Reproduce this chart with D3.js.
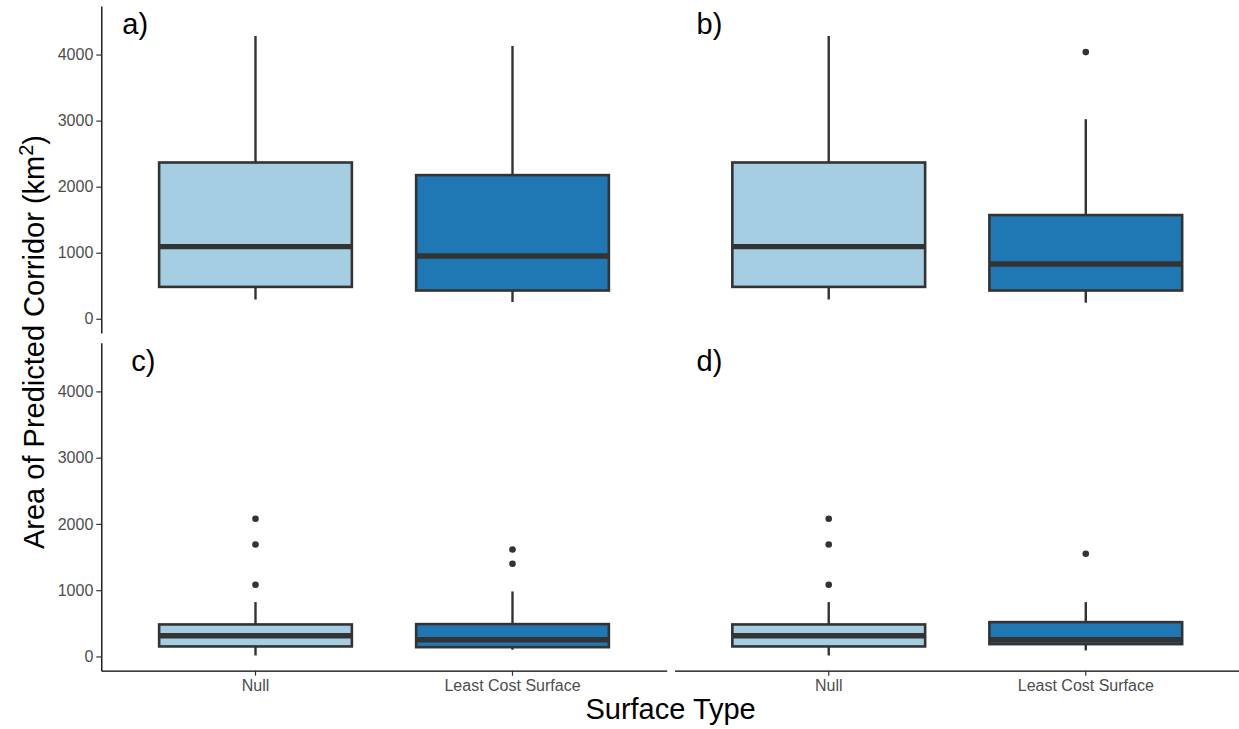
<!DOCTYPE html>
<html lang="en">
<head>
  <meta charset="UTF-8">
  <title>Area of Predicted Corridor</title>
  <style>
    body { margin: 0; background: #fff; }
    text { font-family: "Liberation Sans", Arial, sans-serif; }
  </style>
</head>
<body>
  <svg id="svg" width="1239" height="729"></svg>

  <script src="https://d3js.org/d3.v7.min.js"></script>
  <script>
    // categories on the x axis
    const categories = ["Null", "Least Cost Surface"]
    const panelLabels = ["a)", "b)", "c)", "d)"]
    const yTicks = [0, 1000, 2000, 3000, 4000]
    const fills = ["#A6CEE3", "#1F78B4"]

    // box stats per panel: [Null, Least Cost Surface], each [lower, q1, median, q3, upper]
    const statsA = [[292, 483, 1092, 2366, 4281], [255, 428, 950, 2175, 4130]]
    const statsB = [[292, 483, 1092, 2366, 4281], [244, 428, 830, 1570, 3022]]
    const statsC = [[15, 151, 312, 483, 820], [101, 140, 252, 488, 981]]
    const statsD = [[15, 151, 312, 483, 820], [91, 186, 252, 518, 820]]

    // outlying points per panel
    const outliersA = [[], []]
    const outliersB = [[], [4037]]
    const outliersC = [[1082, 1690, 2078], [1399, 1615]]
    const outliersD = [[1082, 1690, 2078], [1550]]

    const allStats = [statsA, statsB, statsC, statsD]
    const allOutliers = [outliersA, outliersB, outliersC, outliersD]

    const svg = d3.select('#svg')

    // panel geometry (2 x 2 grid)
    const cols = [[101.3, 666.7], [674.5, 1240]]
    const rows = [[6, 333], [342.7, 670.7]]
    const labelDx = [21, 22, 30, 22]

    panelLabels.forEach((lab, i) => {
      const col = i % 2
      const row = Math.floor(i / 2)
      const [x0, x1] = cols[col]
      const [y0, y1] = rows[row]

      const x = d3.scaleBand()
        .domain(categories)
        .range([x0, x1])
        .paddingInner(0.25)
        .paddingOuter(0.225)

      const y = d3.scaleLinear()
        .domain([-215, 4735])
        .range([y1, y0])

      const g = svg.append('g')

      // build rows for the boxes
      const boxes = categories.map((c, k) => ({
        cat: c,
        s: allStats[i][k],
        out: allOutliers[i][k],
        fill: fills[k]
      }))

      const bg = g.selectAll('g.box')
        .data(boxes)
        .join('g')
        .attr('class', 'box')

      // whiskers
      bg.append('line')
        .attr('x1', d => x(d.cat) + x.bandwidth() / 2)
        .attr('x2', d => x(d.cat) + x.bandwidth() / 2)
        .attr('y1', d => y(d.s[0]))
        .attr('y2', d => y(d.s[4]))
        .attr('stroke', '#333333')
        .attr('stroke-width', 2.4)

      // box
      bg.append('rect')
        .attr('x', d => x(d.cat))
        .attr('width', x.bandwidth())
        .attr('y', d => y(d.s[3]))
        .attr('height', d => y(d.s[1]) - y(d.s[3]))
        .attr('fill', d => d.fill)
        .attr('stroke', '#333333')
        .attr('stroke-width', 2.6)

      // median
      bg.append('line')
        .attr('x1', d => x(d.cat))
        .attr('x2', d => x(d.cat) + x.bandwidth())
        .attr('y1', d => y(d.s[2]))
        .attr('y2', d => y(d.s[2]))
        .attr('stroke', '#333333')
        .attr('stroke-width', 5.4)

      // outliers
      bg.selectAll('circle')
        .data(d => d.out.map(v => ({ cat: d.cat, v })))
        .join('circle')
        .attr('cx', d => x(d.cat) + x.bandwidth() / 2)
        .attr('cy', d => y(d.v))
        .attr('r', 3.3)
        .attr('fill', '#333333')

      // y axis only on the left column
      if (col === 0) {
        const ya = g.append('g')
          .attr('transform', `translate(${x0},0)`)
          .call(d3.axisLeft(y).tickValues(yTicks).tickFormat(d3.format('d'))
            .tickSize(5).tickSizeOuter(0).tickPadding(3))
        ya.select('.domain').attr('stroke', '#000').attr('stroke-width', 1.3)
        ya.selectAll('.tick line').attr('stroke', '#333333').attr('stroke-width', 1.2)
        ya.selectAll('.tick text')
          .attr('fill', '#4D4D4D')
          .style('font-size', '16px')
      }

      // x axis only on the bottom row
      if (row === 1) {
        const xa = g.append('g')
          .attr('transform', `translate(0,${y1})`)
          .call(d3.axisBottom(x).tickSize(5).tickSizeOuter(0).tickPadding(4))
        xa.select('.domain').attr('stroke', '#000').attr('stroke-width', 1.3)
        xa.selectAll('.tick line').attr('stroke', '#333333').attr('stroke-width', 1.2)
        xa.selectAll('.tick text')
          .attr('fill', '#4D4D4D')
          .style('font-size', '16px')
      }

      // panel label
      g.append('text')
        .attr('x', x0 + labelDx[i])
        .attr('y', y0 + 28)
        .style('font-size', '29px')
        .attr('fill', '#000')
        .text(lab)
    })

    // axis titles
    svg.append('text')
      .attr('x', 670.6)
      .attr('y', 719)
      .attr('text-anchor', 'middle')
      .style('font-size', '29px')
      .text('Surface Type')

    const yt = svg.append('text')
      .attr('transform', 'translate(44,342) rotate(-90)')
      .attr('text-anchor', 'middle')
      .style('font-size', '29px')
    yt.append('tspan').text('Area of Predicted Corridor (km')
    yt.append('tspan').attr('dy', -11).style('font-size', '20px').text('2')
    yt.append('tspan').attr('dy', 11).text(')')
  </script>
</body>
</html>
